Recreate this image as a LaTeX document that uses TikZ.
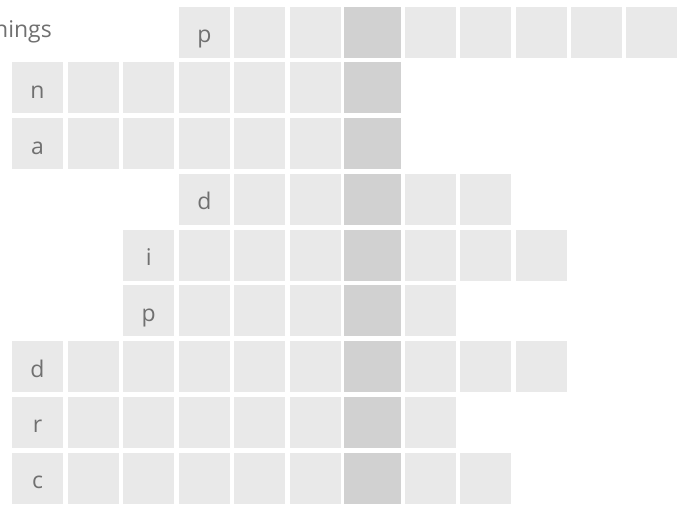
\documentclass[tikz,border=0pt]{standalone}
\usepackage{fontspec}
\setmainfont{Open Sans}
\usepackage{tikz}
\usetikzlibrary{positioning}

\definecolor{cellgray}{HTML}{E9E9E9}
\definecolor{keygray}{HTML}{D1D1D1}
\definecolor{lettergray}{HTML}{707070}

\begin{document}
\begin{tikzpicture}[x=1pt,y=-1pt,
  cell/.style={fill=cellgray,minimum width=51pt,minimum height=51pt,inner sep=0pt,
    text height=21pt,text depth=0pt,text=lettergray,font=\fontsize{23}{23}\selectfont},
  key/.style={cell,fill=keygray,minimum width=57pt}]
\useasboundingbox (0,0) rectangle (683,504);

\node[anchor=base east,text=lettergray,font=\fontsize{23}{23}\selectfont,inner sep=0pt] (title) at (52,37) {nings};

% row / first column / last column / letter
\foreach \r/\first/\last/\lett in {0/3/11/p,1/0/6/n,2/0/6/a,3/3/8/d,4/2/9/i,5/2/7/p,6/0/9/d,7/0/7/r,8/0/8/c}{
  \foreach \c in {\first,...,\last}{
    \pgfmathsetmacro\cx{\c<6 ? 37.5+55.6*\c : 430.5+55.3*(\c-7)}
    \pgfmathsetmacro\cy{32+55.75*\r}
    \ifnum\c=6
      \node[key] (c\r-\c) at (372.5,\cy) {};
    \else
      \node[cell] (c\r-\c) at (\cx,\cy) {\ifnum\c=\first\lett\fi};
    \fi
  }
}
\end{tikzpicture}
\end{document}
